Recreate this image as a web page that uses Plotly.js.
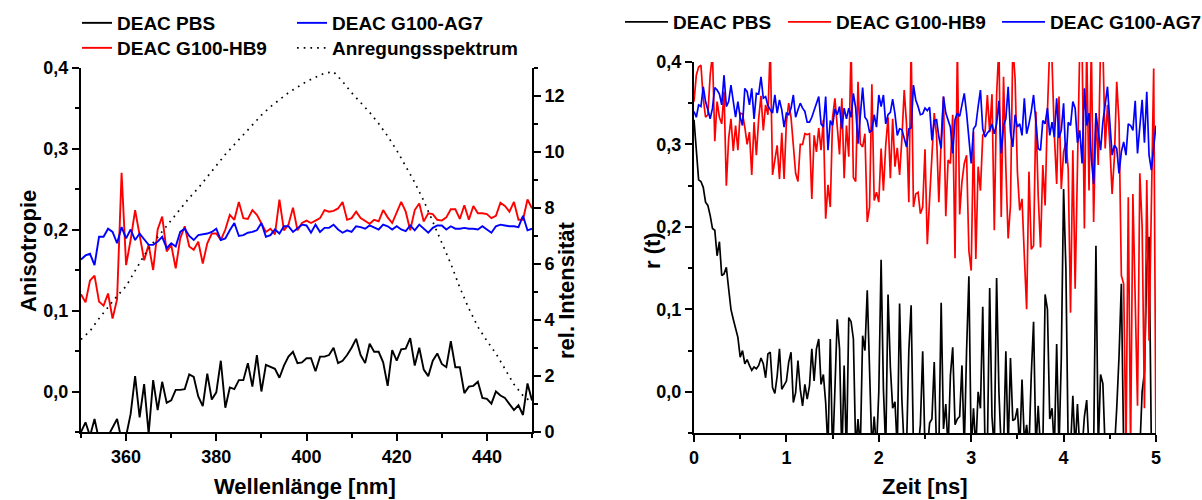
<!DOCTYPE html>
<html>
<head>
<meta charset="utf-8">
<script src="https://cdn.plot.ly/plotly-3.0.1.min.js"></script>
<style>html,body{margin:0;padding:0;background:#fff;}#chart{width:1202px;height:500px;}</style>
</head>
<body>
<div id="chart"></div>
<script>
// ---------- Left panel: steady-state anisotropy vs. wavelength (350..450 nm, 1 nm steps)
const wavelengthStart = 350;   // nm
const wavelengthStep = 1;      // nm
const anisoPBS = [
 -0.05, -0.038, -0.055, -0.034, -0.06, -0.06, -0.055, -0.044, -0.034, -0.06,
 -0.055, -0.028, 0.019, -0.032, 0.009, -0.052, 0.014, -0.023, 0.012, -0.014,
 -0.011, 0.002, 0.002, 0.003, 0.021, 0.018, -0.006, -0.018, 0.022, -0.01,
 -0.001, 0.038, -0.02, 0.005, 0.003, 0.014, 0.014, 0.035, 0.006, 0.045,
 0.0, 0.033, 0.03, 0.028, 0.017, 0.032, 0.043, 0.049, 0.035, 0.036,
 0.041, 0.041, 0.025, 0.043, 0.043, 0.045, 0.054, 0.035, 0.038, 0.045,
 0.054, 0.065, 0.045, 0.035, 0.059, 0.049, 0.049, 0.036, 0.007, 0.051,
 0.038, 0.052, 0.053, 0.066, 0.032, 0.054, 0.027, 0.019, 0.038, 0.047,
 0.034, 0.03, 0.062, 0.03, 0.03, -0.002, 0.006, 0.007, 0.012, -0.008,
 -0.009, -0.015, 0.0, -0.005, -0.008, -0.015, -0.023, -0.017, -0.029, 0.01,
 -0.011
];
const anisoHB9 = [
 0.12, 0.11, 0.137, 0.143, 0.111, 0.106, 0.121, 0.09, 0.114, 0.27,
 0.156, 0.187, 0.224, 0.195, 0.162, 0.181, 0.150, 0.2, 0.216, 0.173,
 0.181, 0.152, 0.189, 0.204, 0.179, 0.175, 0.185, 0.158, 0.183, 0.195,
 0.195, 0.187, 0.2, 0.218, 0.212, 0.234, 0.214, 0.213, 0.224, 0.218,
 0.208, 0.197, 0.201, 0.194, 0.237, 0.199, 0.206, 0.227, 0.199, 0.208,
 0.211, 0.208, 0.211, 0.214, 0.224, 0.222, 0.223, 0.226, 0.234, 0.212,
 0.214, 0.222, 0.214, 0.21, 0.207, 0.212, 0.21, 0.224, 0.215, 0.208,
 0.22, 0.234, 0.222, 0.199, 0.224, 0.232, 0.21, 0.22, 0.219, 0.212,
 0.211, 0.215, 0.225, 0.225, 0.213, 0.23, 0.212, 0.229, 0.22, 0.22,
 0.219, 0.214, 0.217, 0.233, 0.229, 0.222, 0.234, 0.212, 0.212, 0.237,
 0.226
];
const anisoAG7 = [
 0.163, 0.168, 0.17, 0.156, 0.191, 0.191, 0.201, 0.197, 0.183, 0.203,
 0.189, 0.2, 0.187, 0.195, 0.188, 0.181, 0.181, 0.185, 0.191, 0.177,
 0.183, 0.179, 0.197, 0.201, 0.192, 0.187, 0.193, 0.194, 0.195, 0.197,
 0.201, 0.187, 0.189, 0.199, 0.208, 0.192, 0.193, 0.196, 0.197, 0.199,
 0.208, 0.191, 0.193, 0.2, 0.195, 0.204, 0.204, 0.197, 0.201, 0.206,
 0.205, 0.196, 0.206, 0.197, 0.202, 0.202, 0.206, 0.2, 0.196, 0.199,
 0.197, 0.204, 0.203, 0.201, 0.205, 0.202, 0.2, 0.206, 0.204, 0.2,
 0.204, 0.2, 0.198, 0.205, 0.199, 0.206, 0.201, 0.196, 0.202, 0.205,
 0.205, 0.2, 0.204, 0.201, 0.201, 0.202, 0.201, 0.201, 0.2, 0.204,
 0.2, 0.196, 0.204, 0.206, 0.205, 0.204, 0.204, 0.203, 0.217, 0.199,
 0.201
];
// excitation spectrum, 350..450 nm in 2 nm steps (right axis, rel. Intensität)
const spectrumStep = 2;        // nm
const anregung = [
 3.3, 3.6, 4.05, 4.45, 4.85, 5.2, 5.75, 6.3, 6.75, 7.15,
 7.55, 7.95, 8.35, 8.7, 9.1, 9.5, 9.9, 10.25, 10.6, 10.95,
 11.3, 11.6, 11.85, 12.1, 12.3, 12.5, 12.65, 12.8, 12.85, 12.5,
 12.1, 11.75, 11.4, 11.0, 10.55, 10.05, 9.5, 8.9, 8.25, 7.5,
 6.75, 6.0, 5.15, 4.4, 3.75, 3.25, 2.8, 2.25, 1.7, 1.3,
 1.05
];

// ---------- Right panel: time-resolved anisotropy r(t), 0..5 ns in 0.025 ns steps
const timeStart = 0;           // ns
const timeStep = 0.025;        // ns
const rPBS = [
 0.33, 0.29, 0.257, 0.255, 0.248, 0.23, 0.226, 0.214,
 0.198, 0.196, 0.165, 0.182, 0.141, 0.143, 0.151, 0.125,
 0.10, 0.088, 0.078, 0.066, 0.042, 0.05, 0.034, 0.039,
 0.032, 0.026, 0.030, 0.028, 0.032, 0.041, 0.034, 0.017,
 0.046, 0.048, 0.005, -0.002, 0.019, 0.052, 0.003, 0.009,
 0.013, 0.036, 0.048, -0.013, -0.001, 0.038, 0.003, -0.017,
 0.009, -0.009, 0.007, 0.052, 0.013, 0.052, 0.064, 0.009,
 0.021, -0.013, -0.07, 0.064, -0.08, 0.003, 0.088, 0.052,
 -0.08, 0.032, -0.08, 0.09, 0.085, 0.064, -0.07, -0.033,
 -0.07, 0.068, 0.05, 0.123, 0.03, -0.07, -0.03, -0.07,
 0.0, 0.16, 0.003, -0.07, 0.118, 0.03, -0.02, -0.012,
 -0.07, 0.107, -0.01, -0.07, -0.07, 0.05, 0.105, -0.07,
 -0.07, -0.07, -0.04, 0.049, -0.07, -0.07, -0.038, -0.033,
 0.036, -0.07, -0.07, 0.108, -0.045, -0.015, -0.07, 0.02,
 0.054, -0.04, -0.033, -0.03, 0.032, -0.07, 0.05, 0.14,
 -0.07, -0.02, -0.07, 0.0, -0.02, 0.103, -0.07, -0.07,
 0.126, -0.03, -0.07, 0.138, 0.0, -0.07, -0.07, 0.049,
 -0.07, 0.041, -0.035, -0.033, -0.02, -0.07, 0.015, -0.06,
 -0.04, -0.07, 0.02, 0.085, -0.07, -0.017, -0.07, -0.07,
 0.118, 0.10, -0.033, -0.02, -0.07, 0.058, -0.07, 0.04,
 0.246, 0.149, -0.07, -0.07, -0.005, -0.07, -0.015, -0.07,
 -0.07, -0.03, -0.01, -0.07, -0.07, -0.07, 0.177, -0.07,
 0.021, 0.01, -0.07, -0.07, -0.07, -0.07, -0.07, -0.02,
 0.043, 0.131, -0.07, -0.07, -0.07, -0.07, -0.07, -0.07,
 -0.07, -0.07, 0.0, 0.024, 0.15, 0.188, -0.07, -0.07,
 -0.07
];
const rHB9 = [
 0.352, 0.384, 0.394, 0.396, 0.356, 0.333, 0.336, 0.384,
 0.41, 0.304, 0.352, 0.333, 0.325, 0.364, 0.25, 0.307,
 0.331, 0.292, 0.323, 0.293, 0.338, 0.337, 0.321, 0.30,
 0.315, 0.263, 0.327, 0.287, 0.331, 0.359, 0.317, 0.348,
 0.336, 0.42, 0.263, 0.279, 0.299, 0.258, 0.314, 0.258,
 0.327, 0.35, 0.333, 0.299, 0.265, 0.255, 0.30, 0.30,
 0.313, 0.312, 0.313, 0.234, 0.311, 0.291, 0.32, 0.293,
 0.33, 0.21, 0.251, 0.224, 0.333, 0.356, 0.319, 0.288,
 0.356, 0.259, 0.323, 0.285, 0.42, 0.26, 0.255, 0.376,
 0.301, 0.297, 0.313, 0.206, 0.224, 0.373, 0.232, 0.242,
 0.23, 0.295, 0.244, 0.299, 0.333, 0.259, 0.331, 0.273,
 0.296, 0.263, 0.307, 0.366, 0.325, 0.23, 0.42, 0.224,
 0.24, 0.242, 0.216, 0.224, 0.294, 0.179, 0.234, 0.292,
 0.338, 0.311, 0.23, 0.307, 0.358, 0.213, 0.281, 0.277,
 0.336, 0.162, 0.42, 0.215, 0.255, 0.277, 0.287, 0.171,
 0.147, 0.315, 0.161, 0.273, 0.244, 0.311, 0.315, 0.36,
 0.315, 0.361, 0.196, 0.36, 0.42, 0.212, 0.382, 0.271,
 0.186, 0.226, 0.42, 0.38, 0.267, 0.22, 0.234, 0.165,
 0.10, 0.267, 0.173, 0.177, 0.34, 0.238, 0.175, 0.275,
 0.226, 0.34, 0.42, 0.40, 0.311, 0.252, 0.358, 0.246,
 0.291, 0.302, 0.27, 0.096, 0.293, 0.125, 0.28, 0.42,
 0.42, 0.198, 0.42, 0.244, 0.42, 0.206, 0.338, 0.275,
 0.42, 0.42, 0.295, 0.348, 0.30, 0.24, 0.285, 0.376,
 0.327, 0.141, 0.131, -0.07, 0.236, -0.07, 0.24, 0.11,
 -0.017, 0.265, 0.2, -0.02, 0.257, 0.062, 0.23, 0.392,
 -0.07
];
const rAG7 = [
 0.34, 0.333, 0.348, 0.346, 0.37, 0.352, 0.342, 0.331,
 0.344, 0.369, 0.366, 0.361, 0.348, 0.384, 0.346, 0.352,
 0.372, 0.35, 0.333, 0.352, 0.333, 0.323, 0.368, 0.364,
 0.348, 0.368, 0.331, 0.362, 0.361, 0.382, 0.356, 0.358,
 0.347, 0.342, 0.338, 0.36, 0.338, 0.354, 0.342, 0.321,
 0.338, 0.336, 0.344, 0.36, 0.333, 0.342, 0.35, 0.344,
 0.34, 0.327, 0.327, 0.333, 0.342, 0.348, 0.358, 0.325,
 0.321, 0.358, 0.293, 0.329, 0.323, 0.343, 0.336, 0.346,
 0.319, 0.344, 0.331, 0.344, 0.333, 0.362, 0.344, 0.301,
 0.333, 0.369, 0.333, 0.329, 0.315, 0.317, 0.336, 0.321,
 0.36, 0.346, 0.36, 0.325, 0.336, 0.339, 0.355, 0.337,
 0.311, 0.319, 0.318, 0.307, 0.297, 0.319, 0.32, 0.372,
 0.354, 0.346, 0.336, 0.337, 0.344, 0.341, 0.345, 0.305,
 0.329, 0.33, 0.309, 0.295, 0.358, 0.338, 0.329, 0.321,
 0.289, 0.33, 0.338, 0.334, 0.348, 0.362, 0.338, 0.309,
 0.277, 0.319, 0.323, 0.346, 0.366, 0.319, 0.309, 0.314,
 0.317, 0.325, 0.313, 0.325, 0.353, 0.289, 0.323, 0.331,
 0.37, 0.315, 0.297, 0.336, 0.321, 0.325, 0.311, 0.356,
 0.313, 0.325, 0.34, 0.36, 0.327, 0.295, 0.293, 0.329,
 0.325, 0.344, 0.311, 0.327, 0.309, 0.356, 0.308, 0.317,
 0.35, 0.277, 0.327, 0.323, 0.352, 0.344, 0.302, 0.317,
 0.277, 0.368, 0.323, 0.338, 0.283, 0.252, 0.338, 0.315,
 0.293, 0.327, 0.346, 0.37, 0.327, 0.287, 0.299, 0.295,
 0.265, 0.291, 0.303, 0.287, 0.325, 0.323, 0.317, 0.353,
 0.289, 0.323, 0.354, 0.302, 0.364, 0.287, 0.269, 0.297,
 0.323
];

const names = {pbs: 'DEAC PBS', hb9: 'DEAC G100-HB9', ag7: 'DEAC G100-AG7', anr: 'Anregungsspektrum'};
const FONT = 'Liberation Sans, Arial, Helvetica, sans-serif';
const W = 1202, H = 500;

const lw = 1.9;
const traces = [
  {name: names.pbs, y: anisoPBS, x0: wavelengthStart, dx: wavelengthStep, xaxis: 'x', yaxis: 'y',
   mode: 'lines', line: {color: '#000000', width: lw}, legend: 'legend'},
  {name: names.hb9, y: anisoHB9, x0: wavelengthStart, dx: wavelengthStep, xaxis: 'x', yaxis: 'y',
   mode: 'lines', line: {color: '#ff0000', width: lw}, legend: 'legend2'},
  {name: names.ag7, y: anisoAG7, x0: wavelengthStart, dx: wavelengthStep, xaxis: 'x', yaxis: 'y',
   mode: 'lines', line: {color: '#0000ff', width: lw}, legend: 'legend', legendwidth: 200},
  {name: names.anr, y: anregung, x0: wavelengthStart, dx: spectrumStep, xaxis: 'x', yaxis: 'y2',
   mode: 'lines', line: {color: '#000000', width: 1.7, dash: '1.7px,5px'}, legend: 'legend2', legendwidth: 200},
  {name: names.pbs, y: rPBS, x0: timeStart, dx: timeStep, xaxis: 'x3', yaxis: 'y3',
   mode: 'lines', line: {color: '#000000', width: 1.7}, legend: 'legend3', legendwidth: 105},
  {name: names.hb9, y: rHB9, x0: timeStart, dx: timeStep, xaxis: 'x3', yaxis: 'y3',
   mode: 'lines', line: {color: '#ff0000', width: 1.7}, legend: 'legend3', legendwidth: 156},
  {name: names.ag7, y: rAG7, x0: timeStart, dx: timeStep, xaxis: 'x3', yaxis: 'y3',
   mode: 'lines', line: {color: '#0000ff', width: 1.7}, legend: 'legend3', legendwidth: 152}
];

const tickFont = {family: FONT, size: 18, color: '#000', weight: 700};
function axisBase(extra) {
  return Object.assign({
    showline: true, linecolor: '#000', linewidth: 2, showgrid: false, zeroline: false,
    ticks: 'outside', ticklen: 7, tickwidth: 2, tickcolor: '#000', tickfont: tickFont,
    fixedrange: true, automargin: false
  }, extra);
}
function minor(dt) { return {dtick: dt, ticks: 'outside', ticklen: 4, tickwidth: 2, tickcolor: '#000', showgrid: false}; }

const legendBase = {
  orientation: 'h', xanchor: 'left', yanchor: 'middle', bgcolor: 'rgba(0,0,0,0)', borderwidth: 0,
  font: {family: FONT, size: 19, color: '#000', weight: 700}, itemwidth: 30, tracegroupgap: 0
};
const titleFont = {family: FONT, size: 22, color: '#000', weight: 700};

const layout = {
  width: W, height: H,
  margin: {l: 0, r: 0, t: 0, b: 0, pad: 0, autoexpand: false},
  paper_bgcolor: '#fff', plot_bgcolor: '#fff',
  separators: ',.',
  font: {family: FONT, color: '#000'},
  showlegend: true,
  xaxis: axisBase({domain: [81 / W, 532 / W], range: [350, 450], anchor: 'y',
    tick0: 360, dtick: 20, minor: minor(10)}),
  yaxis: axisBase({domain: [(H - 432) / H, (H - 67.5) / H], range: [-0.05, 0.4], anchor: 'x',
    tick0: 0, dtick: 0.1, tickformat: '.1f', minor: minor(0.05)}),
  yaxis2: axisBase({overlaying: 'y', side: 'right', anchor: 'x', range: [0, 13],
    tick0: 0, dtick: 2, minor: minor(1)}),
  xaxis3: axisBase({domain: [694 / W, 1156 / W], range: [0, 5], anchor: 'y3',
    tick0: 0, dtick: 1, minor: minor(0.5)}),
  yaxis3: axisBase({domain: [(H - 433) / H, (H - 62) / H], range: [-0.05, 0.4], anchor: 'x3',
    tick0: 0, dtick: 0.1, tickformat: '.1f', minor: minor(0.05)}),
  legend: Object.assign({}, legendBase, {x: 77 / W, y: 1 - 23 / H, entrywidth: 170}),
  legend2: Object.assign({}, legendBase, {x: 77 / W, y: 1 - 48 / H, entrywidth: 170}),
  legend3: Object.assign({}, legendBase, {x: 620 / W, y: 1 - 22 / H, itemwidth: 43}),
  annotations: [
    {text: 'Anisotropie', xref: 'paper', yref: 'paper', x: 28 / W, y: 1 - 251 / H, textangle: -90,
     showarrow: false, xanchor: 'center', yanchor: 'middle', font: titleFont},
    {text: 'rel. Intensität', xref: 'paper', yref: 'paper', x: 566 / W, y: 1 - 290 / H, textangle: -90,
     showarrow: false, xanchor: 'center', yanchor: 'middle', font: titleFont},
    {text: 'Wellenlänge [nm]', xref: 'paper', yref: 'paper', x: 305 / W, y: 1 - 486 / H,
     showarrow: false, xanchor: 'center', yanchor: 'middle', font: titleFont},
    {text: 'r (t)', xref: 'paper', yref: 'paper', x: 652 / W, y: 1 - 251 / H, textangle: -90,
     showarrow: false, xanchor: 'center', yanchor: 'middle', font: titleFont},
    {text: 'Zeit [ns]', xref: 'paper', yref: 'paper', x: 925 / W, y: 1 - 486 / H,
     showarrow: false, xanchor: 'center', yanchor: 'middle', font: titleFont}
  ]
};

Plotly.newPlot('chart', traces, layout, {displayModeBar: false, staticPlot: true});
</script>
</body>
</html>
